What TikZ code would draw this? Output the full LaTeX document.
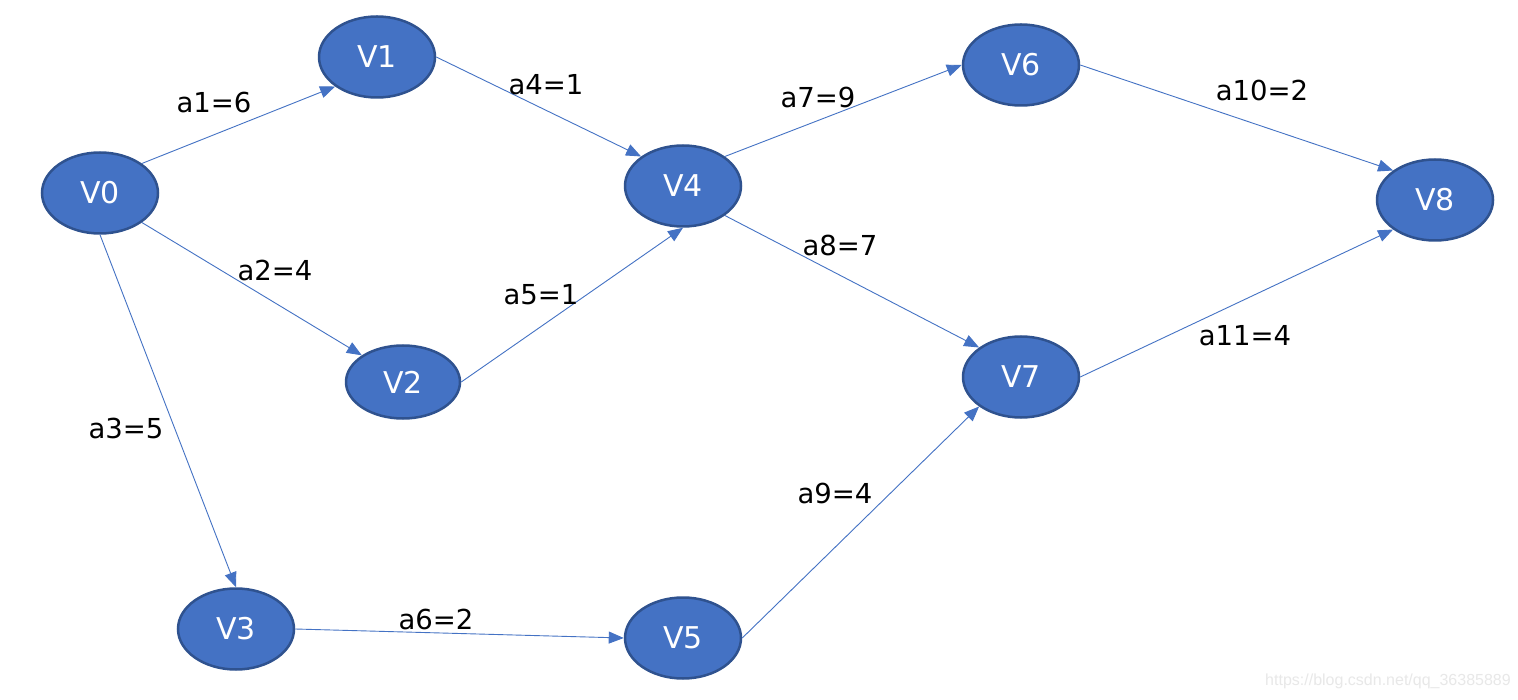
\documentclass[tikz,border=0pt]{standalone}
\usepackage{fontspec}
\setmainfont{DejaVu Sans}
\newfontfamily\wmfont{Liberation Sans}
\usetikzlibrary{shapes.geometric,arrows.meta}
\definecolor{nodefill}{HTML}{4472C4}
\definecolor{nodeborder}{HTML}{2F528F}
\definecolor{edgecol}{HTML}{4472C4}
\definecolor{wmgray}{HTML}{E8E8E8}
\tikzset{
  vnode/.style={ellipse, fill=nodefill, draw=nodeborder, line width=2.5pt,
    minimum width=116pt, minimum height=81pt, inner sep=0pt, text=white,
    font=\fontsize{30}{30}\selectfont},
  edge/.style={draw=edgecol, line width=0.9pt,
    -{Triangle[length=15pt,width=12pt]}},
  elabel/.style={text=black, font=\fontsize{27.5}{27.5}\selectfont, inner sep=0pt}
}
\begin{document}
\begin{tikzpicture}[x=1pt,y=-1pt]
\useasboundingbox (0,0) rectangle (1518,700);
\fill[white] (0,0) rectangle (1518,700);
\node[vnode] (v0) at (100,193) {V0};
\node[vnode] (v1) at (377,57) {V1};
\node[vnode, minimum width=114pt, minimum height=73pt] (v2) at (403,382) {V2};
\node[vnode] (v3) at (236,629) {V3};
\node[vnode] (v4) at (683,186) {V4};
\node[vnode] (v5) at (683,638) {V5};
\node[vnode] (v6) at (1021,65) {V6};
\node[vnode] (v7) at (1021,377) {V7};
\node[vnode] (v8) at (1435,200) {V8};

\draw[edge] (v0.north east) -- (v1.south west);
\draw[edge] (v0.south east) -- (v2.north west);
\draw[edge] (v0.south) -- (v3.north);
\draw[edge] (v1.east) -- (v4.north west);
\draw[edge] (v2.east) -- (v4.south);
\draw[edge] (v3.east) -- (v5.west);
\draw[edge] (v4.north east) -- (v6.west);
\draw[edge] (v4.south east) -- (v7.north west);
\draw[edge] (v5.east) -- (v7.south west);
\draw[edge] (v6.east) -- (v8.north west);
\draw[edge] (v7.east) -- (v8.south west);

\node[elabel] (l1) at (214,102) {a1=6};
\node[elabel] (l2) at (275,270) {a2=4};
\node[elabel] (l3) at (126,428) {a3=5};
\node[elabel] (l4) at (546,85) {a4=1};
\node[elabel] (l5) at (541,295) {a5=1};
\node[elabel] (l6) at (436,619) {a6=2};
\node[elabel] (l7) at (818,97) {a7=9};
\node[elabel] (l8) at (840,245) {a8=7};
\node[elabel] (l9) at (835,493) {a9=4};
\node[elabel] (l10) at (1262,90) {a10=2};
\node[elabel] (l11) at (1245,336) {a11=4};

\node[text=wmgray, font=\wmfont\fontsize{16}{16}\selectfont, inner sep=0pt] (wm) at (1388,681) {https://blog.csdn.net/qq\_36385889};
\end{tikzpicture}
\end{document}
